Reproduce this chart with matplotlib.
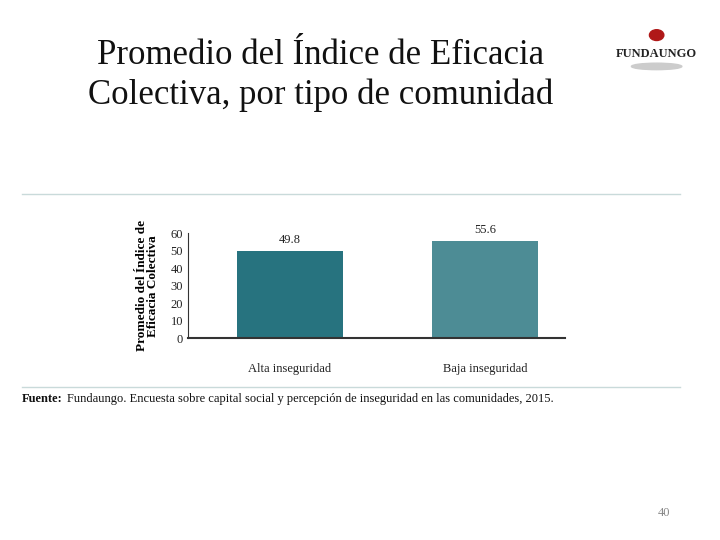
import matplotlib
matplotlib.use("Agg")
import matplotlib.pyplot as plt
from matplotlib.lines import Line2D

categories = ["Alta inseguridad", "Baja inseguridad"]
values = [49.8, 55.6]
colors = ["#27737F", "#4D8C95"]
yticks = [0, 10, 20, 30, 40, 50, 60]

plt.rcParams['font.family'] = ['Liberation Serif', 'DejaVu Serif']
fig = plt.figure(figsize=(7.2, 5.4), dpi=100)
fig.patch.set_facecolor("white")

fig.text(0.445, 0.86, "Promedio del Índice de Eficacia\nColectiva, por tipo de comunidad",
         ha="center", va="center", fontsize=25, linespacing=1.25, color="#111111")
# logo
fig.text(0.912, 0.90, "FUNDAUNGO", ha="center", va="center", fontsize=9,
         fontweight="bold", color="#222222")
fig.patches.append(matplotlib.patches.Circle((0.912, 0.935), 0.010, transform=fig.transFigure,
                                             color="#B01818"))
fig.patches.append(matplotlib.patches.Ellipse((0.912, 0.877), 0.07, 0.012, transform=fig.transFigure,
                                              color="#cccccc"))

for y in [0.641, 0.284]:
    fig.add_artist(Line2D([0.03, 0.945], [y, y], transform=fig.transFigure,
                          color="#C9DADA", lw=1))

ax = fig.add_axes([0.261, 0.374, 0.524, 0.194])
x = list(range(len(categories)))
bars = ax.bar(x, values, width=0.54, color=colors)
for xi, v in zip(x, values):
    ax.text(xi, v + 3, f"{v:.1f}", ha="center", va="bottom", fontsize=9, color="#222222")
ax.set_xlim(-0.523, 1.41)
ax.set_ylim(0, 60)
ax.set_yticks(yticks)
ax.set_xticks(x)
ax.set_xticklabels(categories, fontsize=9)
ax.tick_params(axis="both", length=0, labelsize=9, colors="#222222")
ax.tick_params(axis="x", pad=18)
for s in ["top", "right"]:
    ax.spines[s].set_visible(False)
for s in ["left", "bottom"]:
    ax.spines[s].set_color("#333333")
ax.spines["bottom"].set_linewidth(1.5)
ax.set_ylabel("Promedio del Índice de\nEficacia Colectiva", fontsize=9.5, fontweight="bold",
              linespacing=0.9, labelpad=8)

fig.text(0.03, 0.262, "Fuente:", fontsize=9, va="center", fontweight="bold", color="#111111")
fig.text(0.093, 0.262, "Fundaungo. Encuesta sobre capital social y percepción de inseguridad en las comunidades, 2015.",
         fontsize=9, va="center", color="#111111")
fig.text(0.922, 0.045, "40", fontsize=9, color="#888888", ha="center")

fig.savefig("out.png", dpi=100)
